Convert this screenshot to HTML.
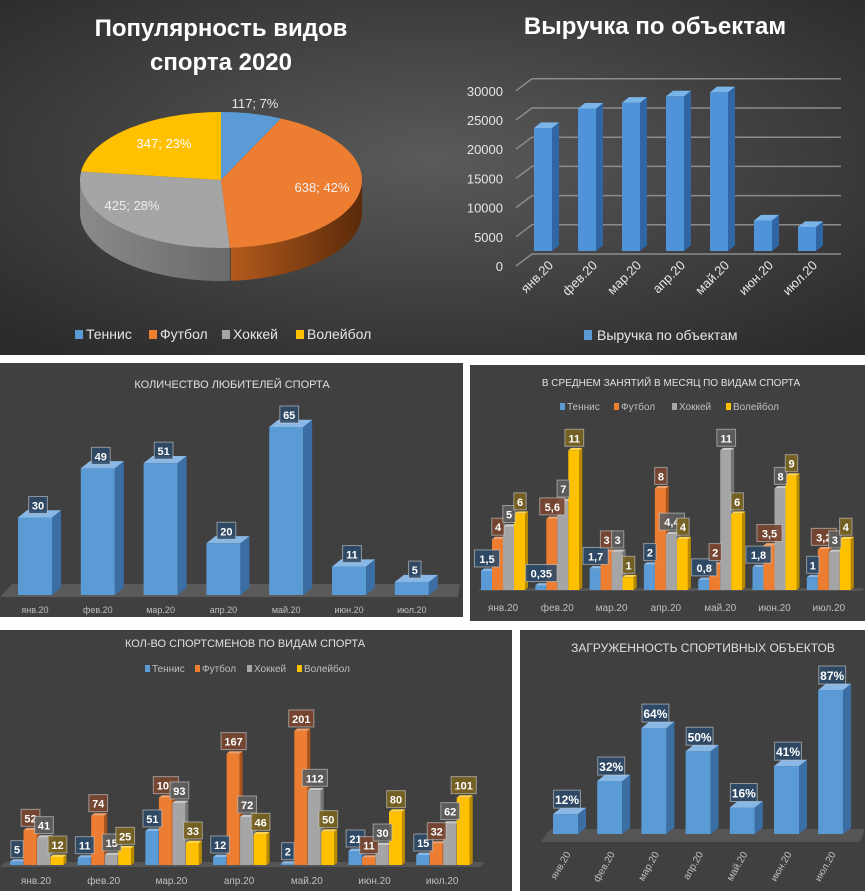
<!DOCTYPE html>
<html><head><meta charset="utf-8"><style>
html,body{margin:0;padding:0;background:#fff;width:865px;height:891px;overflow:hidden}
svg{display:block}
text{font-family:"Liberation Sans","DejaVu Sans",sans-serif}
</style></head><body>
<svg id="s" width="865" height="891" viewBox="0 0 865 891" xmlns="http://www.w3.org/2000/svg">
<defs>
<radialGradient id="bgTop" cx="0.5" cy="0.45" r="0.7">
<stop offset="0" stop-color="#5a5a5a"/><stop offset="1" stop-color="#2b2b2b"/></radialGradient>
<linearGradient id="oside" x1="0" x2="1"><stop offset="0" stop-color="#b35a1c"/><stop offset="1" stop-color="#5a2a0a"/></linearGradient>
<linearGradient id="gside" x1="0" x2="1"><stop offset="0" stop-color="#8a8a8a"/><stop offset="1" stop-color="#6a6a6a"/></linearGradient>
</defs>
<rect x="0" y="0" width="865" height="355" fill="url(#bgTop)"/>
<rect x="0" y="363" width="463" height="254" fill="#404040"/>
<rect x="470" y="365" width="395" height="256" fill="#404040"/>
<rect x="0" y="630" width="512" height="261" fill="#404040"/>
<rect x="520" y="630" width="345" height="261" fill="#404040"/>
<g id="g"></g>
<text x="221" y="36" text-anchor="middle" font-size="24" font-weight="bold" fill="#fff">Популярность видов</text>
<text x="221" y="70" text-anchor="middle" font-size="24" font-weight="bold" fill="#fff">спорта 2020</text>
<text x="655" y="34" text-anchor="middle" font-size="24" font-weight="bold" fill="#fff">Выручка по объектам</text>
<text x="232" y="388" text-anchor="middle" font-size="11" fill="#e0e0e0">КОЛИЧЕСТВО ЛЮБИТЕЛЕЙ СПОРТА</text>
<text x="671" y="386" text-anchor="middle" font-size="10" fill="#e0e0e0">В СРЕДНЕМ ЗАНЯТИЙ В МЕСЯЦ ПО ВИДАМ СПОРТА</text>
<text x="245" y="647" text-anchor="middle" font-size="11" fill="#e0e0e0">КОЛ-ВО СПОРТСМЕНОВ ПО ВИДАМ СПОРТА</text>
<text x="703" y="652" text-anchor="middle" font-size="12" fill="#e0e0e0">ЗАГРУЖЕННОСТЬ СПОРТИВНЫХ ОБЪЕКТОВ</text>
</svg>
<script>
var NS="http://www.w3.org/2000/svg",G=document.getElementById("g");
function el(t,a,txt){var e=document.createElementNS(NS,t);for(var k in a)e.setAttribute(k,a[k]);if(txt!=null)e.textContent=txt;G.appendChild(e);return e;}
var C={b:["#5b9bd5","#3a6ea5","#8ab8e6","#2e4a68"],o:["#ed7d31","#a9531b","#f4a06a","#7a4630"],g:["#a5a5a5","#767676","#c8c8c8","#5e5e5e"],y:["#ffc000","#b88a00","#ffd54d","#7a6420"]};
function bar(x,yb,w,h,d,c){var t=yb-h,dy=d*0.8;
el("rect",{x:x,y:t,width:w,height:h,fill:c[0]});
el("polygon",{points:[x+w,t,x+w+d,t-dy,x+w+d,yb-dy,x+w,yb].join(" "),fill:c[1]});
el("polygon",{points:[x,t,x+d,t-dy,x+w+d,t-dy,x+w,t].join(" "),fill:c[2]});}
function lab(cx,y,s,c,fs){fs=fs||11;var w=s.length*fs*0.58+6,h=fs+6;
el("rect",{x:cx-w/2,y:y-h,width:w,height:h,fill:c,"fill-opacity":0.9,stroke:"#cfcfcf","stroke-opacity":0.6});
el("text",{x:cx,y:y-4,"text-anchor":"middle","font-size":fs,"font-weight":"bold",fill:"#fff"},s);}
function txt(x,y,s,a){a=a||{};var o={x:x,y:y,"font-size":a.fs||9,fill:a.fill||"#bfbfbf","text-anchor":a.anc||"middle"};if(a.rot)o.transform="rotate("+a.rot+" "+x+" "+y+")";el("text",o,s);}
var M=["янв.20","фев.20","мар.20","апр.20","май.20","июн.20","июл.20"];

// PIE
var cx=221,cy=180,rx=141,ry=68,dep=33;
function P(th){var r=th*Math.PI/180;return [cx+rx*Math.sin(r),cy-ry*Math.cos(r)];}
function side(a0,a1,fill){var pts=[],i;for(i=a0;i<=a1;i+=2)pts.push(P(i));var p=pts.map(function(q){return q[0]+","+q[1]}).join(" ");var q=pts.slice().reverse().map(function(q){return q[0]+","+(q[1]+dep)}).join(" ");el("polygon",{points:p+" "+q,fill:fill});}
side(90,176.4,"url(#oside)");side(176.4,270,"url(#gside)");
function slice(a0,a1,fill){var p0=P(a0),p1=P(a1),large=(a1-a0)>180?1:0;el("path",{d:"M"+cx+","+cy+" L"+p0[0]+","+p0[1]+" A"+rx+","+ry+" 0 "+large+" 1 "+p1[0]+","+p1[1]+" Z",fill:fill});}
slice(0,25.2,"#5b9bd5");slice(25.2,176.4,"#ed7d31");slice(176.4,277.2,"#a5a5a5");slice(277.2,360,"#ffc000");
txt(255,108,"117; 7%",{fs:13,fill:"#e8e8e8"});txt(322,192,"638; 42%",{fs:13,fill:"#f0f0f0"});
txt(132,210,"425; 28%",{fs:13,fill:"#eeeeee"});txt(164,148,"347; 23%",{fs:13,fill:"#fff"});
var lg=[[75,"Теннис","#5b9bd5"],[149,"Футбол","#ed7d31"],[222,"Хоккей","#a5a5a5"],[296,"Волейбол","#ffc000"]];
lg.forEach(function(l){el("rect",{x:l[0],y:330,width:8,height:9,fill:l[2]});txt(l[0]+11,339,l[1],{fs:14,fill:"#e6e6e6",anc:"start"});});

// REVENUE
for(var i=0;i<=6;i++){var y=254-i*29.2;el("polyline",{points:"516,"+(y+12)+" 532,"+y+" 841,"+y,fill:"none",stroke:"#8c8c8c","stroke-width":1.5});
txt(503,y+17,String(i*5000),{fs:13,fill:"#e6e6e6",anc:"end"});}
var rv=[21000,24300,25300,26400,27100,5200,4100];
rv.forEach(function(v,i){var x=534+i*44;bar(x,251,18,v*0.00586,7,["#4f93db","#2f66a3","#7ab4e8"]);
txt(x+20,266,M[i],{fs:13,fill:"#e6e6e6",anc:"end",rot:-45});});
el("rect",{x:584,y:330,width:8,height:10,fill:"#5b9bd5"});txt(597,340,"Выручка по объектам",{fs:14,fill:"#e6e6e6",anc:"start"});

// LOVERS
el("polygon",{points:"0,597 458,597 460,584 12,584",fill:"#5a5a5a"});
var lv=[30,49,51,20,65,11,5];
lv.forEach(function(v,i){var x=18+i*62.8;bar(x,595,34,v*2.585,9,C.b);lab(x+20,595-v*2.585-4,String(v),C.b[3]);txt(x+17,613,M[i],{fs:9});});

// AVG
function legend4(x0,y,sp){var n=[["Теннис","#5b9bd5"],["Футбол","#ed7d31"],["Хоккей","#a5a5a5"],["Волейбол","#ffc000"]];var x=x0;n.forEach(function(l,i){el("rect",{x:x,y:y-7,width:5,height:7,fill:l[1]});txt(x+7,y,l[0],{fs:10,fill:"#bfbfbf",anc:"start"});x+=sp[i];});}
legend4(560,410,[54,58,54]);
var AV=[[1.5,0.35,1.7,2,0.8,1.8,1],[4,5.6,3,8,2,3.5,3.2],[5,7,3,4.4,11,8,3],[6,11,1,4,6,9,4]];
var cs=[C.b,C.o,C.g,C.y];
el("polygon",{points:"478,591 862,591 865,588 481,588",fill:"#555"});
for(var m=0;m<7;m++){for(var s=0;s<4;s++){var v=AV[s][m],x=481+m*54.3+s*11;bar(x,590,11,v*12.7,3,cs[s]);}
for(var s=0;s<4;s++){var v=AV[s][m],x=481+m*54.3+s*11;lab(x+6,590-v*12.7-4,String(v).replace(".",","),cs[s][3],11);}
txt(503+m*54.3,611,M[m],{fs:10});}

// ATHLETES
legend4(145,672,[50,52,50]);
var AT=[[5,11,51,12,2,21,15],[52,74,101,167,201,11,32],[41,15,93,72,112,30,62],[12,25,33,46,50,80,101]];
el("polygon",{points:"0,867 480,867 485,862 5,862",fill:"#555"});
for(var m=0;m<7;m++){for(var s=0;s<4;s++){var v=AT[s][m],x=10+m*67.7+s*13.5;bar(x,865,13,v*0.667,3,cs[s]);}
for(var s=0;s<4;s++){var v=AT[s][m],x=10+m*67.7+s*13.5;lab(x+7,865-v*0.667-4,String(v),cs[s][3],11);}
txt(36+m*67.7,884,M[m],{fs:10});}

// LOAD
el("polygon",{points:"541,842 860,842 865,829 550,829",fill:"#555"});
var LD=[12,32,64,50,16,41,87];
LD.forEach(function(v,i){var x=553+i*44.2;bar(x,834,25,v*1.655,8,C.b);lab(x+14,834-v*1.655-6,v+"%",C.b[3],12);txt(x+18,854,M[i],{fs:10,anc:"end",rot:-60});});
</script>
</body></html>
